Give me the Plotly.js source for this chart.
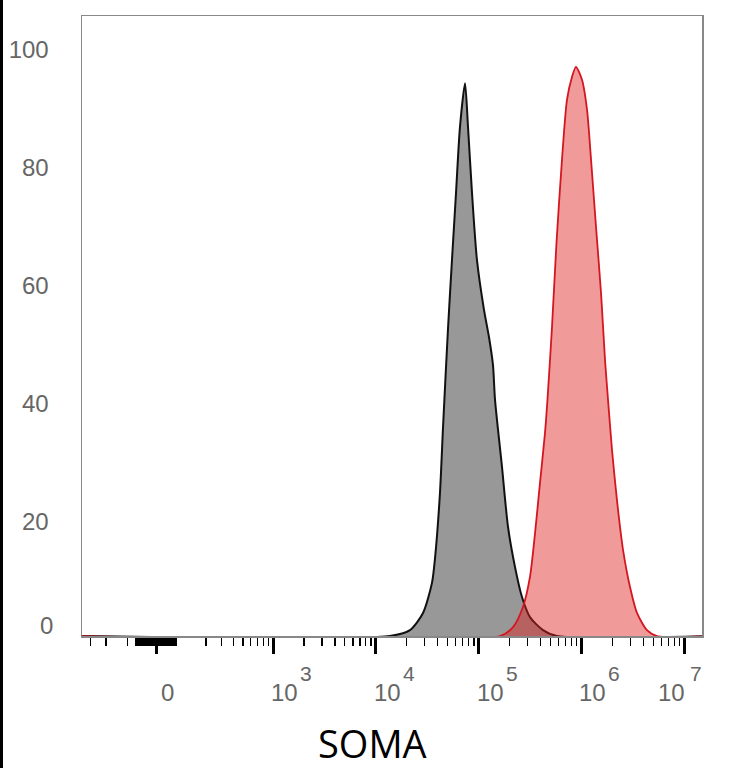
<!DOCTYPE html>
<html>
<head>
<meta charset="utf-8">
<script src="https://cdn.plot.ly/plotly-3.0.1.min.js"></script>
<style>
html,body{margin:0;padding:0;background:#fff;}
#chart{width:734px;height:768px;}
</style>
</head>
<body>
<div id="chart"></div>
<script>
// ---- data (fluorescence intensity vs. normalized count) ----
const isotypeFluor = [-400, 13700, 21500, 28800, 35200, 37700, 42100, 45100, 50500, 55100, 60300, 65900, 73800,
  78900, 86300, 96400, 113000, 126300, 138000, 144500, 169000, 193200, 225900, 264300, 316200, 423000, 578000, 2e7];
const isotypeCount = [0, 0, 1.0, 3.9, 9.0, 13.2, 24.2, 35.4, 52.3, 63.7, 75.0, 86.2, 93.6,
  86.2, 75.0, 63.7, 55.2, 50.6, 45.9, 40.0, 28.6, 18.5, 11.7, 6.6, 3.2, 1.0, 0, 0];

const somaFluor = [-400, 161400, 216300, 270000, 316000, 354000, 395400, 442600, 467700, 517600, 572500, 647000, 724000, 811000, 885000,
  1014000, 1135000, 1242000, 1387000, 1552000, 1698000, 1816000, 1986000, 2218000, 2541000, 2972000, 3475000, 4345000, 5433000, 2e7];
const somaCount = [0, 0, 1.5, 4.9, 10.0, 17.4, 25.9, 34.4, 40.0, 52.3, 66.6, 80.6, 90.8, 94.7, 96.4,
  94.2, 89.1, 80.6, 69.3, 58.1, 46.7, 40.0, 31.5, 23.0, 14.6, 8.3, 3.9, 1.0, 0, 0];

const majorTicks = [0, 1e3, 1e4, 1e5, 1e6, 1e7];
const majorExponents = ['', '3', '4', '5', '6', '7'];
const yTicks = [20, 40, 60, 80, 100];
const xAxisTitle = 'SOMA';

// ---- biexponential-like display transform ----
const W = 72.8;
function T(v) { return Math.asinh(v / (2 * W)) / Math.LN10; }

// minor tick values
const minorVals = [];
[-300, -200, -100].forEach(v => minorVals.push(v));
for (let v = -70; v <= 70; v += 5) if (v !== 0) minorVals.push(v);
for (let m = 2; m <= 9; m++) minorVals.push(m * 100);
for (let n = 3; n <= 6; n++) for (let m = 2; m <= 9; m++) minorVals.push(m * Math.pow(10, n));

const grayTrace = {
  x: isotypeFluor.map(T), y: isotypeCount, type: 'scatter', mode: 'lines',
  line: {color: '#111111', width: 2, shape: 'spline', smoothing: 0.7},
  fill: 'tozeroy', fillcolor: 'rgb(152,152,152)', hoverinfo: 'skip'
};
const redTrace = {
  x: somaFluor.map(T), y: somaCount, type: 'scatter', mode: 'lines',
  line: {color: 'rgb(212,22,32)', width: 1.8, shape: 'spline', smoothing: 0.7},
  fill: 'tozeroy', fillcolor: 'rgba(225,30,30,0.45)', hoverinfo: 'skip'
};

const labelFont = {family: 'Liberation Sans, Arial, sans-serif', size: 24, color: '#666666'};
const expFont = {family: 'Liberation Sans, Arial, sans-serif', size: 21, color: '#666666'};

const annotations = [];
majorTicks.forEach((v, i) => {
  const last = i === majorTicks.length - 1;
  if (v === 0) {
    annotations.push({x: T(0), xref: 'x', y: 0, yref: 'paper', text: '0', showarrow: false,
      xanchor: 'center', yanchor: 'middle', xshift: 11, yshift: -56, font: labelFont});
    return;
  }
  annotations.push({x: T(v), xref: 'x', y: 0, yref: 'paper', text: '10', showarrow: false,
    xanchor: last ? 'right' : 'left', yanchor: 'middle', xshift: last ? 3 : -4, yshift: -56, font: labelFont});
  annotations.push({x: T(v), xref: 'x', y: 0, yref: 'paper', text: majorExponents[i], showarrow: false,
    xanchor: 'left', yanchor: 'middle', xshift: last ? 4 : 25, yshift: -37, font: expFont});
});
// y "0" label
annotations.push({x: 0, xref: 'paper', y: 0, yref: 'y', text: '0', showarrow: false,
  xanchor: 'right', yanchor: 'middle', xshift: -27, yshift: 11, font: labelFont});
// axis title
annotations.push({x: (372.5 - 82) / 620, xref: 'paper', y: 0, yref: 'paper', text: xAxisTitle, showarrow: false,
  xanchor: 'center', yanchor: 'middle', yshift: -107, borderpad: 0,
  font: {family: 'Open Sans, Noto Sans, sans-serif', size: 38, color: '#000000'}});

const layout = {
  width: 734, height: 768,
  margin: {l: 82, r: 32, t: 16, b: 132, pad: 0},
  paper_bgcolor: '#ffffff', plot_bgcolor: '#ffffff',
  showlegend: false,
  xaxis: {
    range: [T(-368), T(1.49e7)], showgrid: false, zeroline: false,
    showline: true, mirror: true, linecolor: '#888888', linewidth: 1.5,
    tickmode: 'array', tickvals: majorTicks.map(T), showticklabels: false,
    ticks: 'outside', ticklen: 16, tickwidth: 3, tickcolor: '#000000',
    minor: {tickmode: 'array', tickvals: minorVals.map(T), ticks: 'outside', ticklen: 8, tickwidth: 1.3, tickcolor: '#000000', showgrid: false}
  },
  yaxis: {
    range: [0, 105], showgrid: false, zeroline: false,
    showline: true, mirror: true, linecolor: '#888888', linewidth: 1.5,
    tickmode: 'array', tickvals: yTicks, ticktext: yTicks.map(String),
    ticks: '', ticklabelstandoff: 27, ticklabelshift: 4, tickfont: labelFont
  },
  shapes: [{type: 'rect', xref: 'paper', yref: 'paper', x0: -82 / 620, x1: -79 / 620, y0: -132 / 620, y1: 636 / 620,
    fillcolor: '#000000', line: {width: 0}, layer: 'above'}],
  annotations: annotations
};

Plotly.newPlot('chart', [grayTrace, redTrace], layout, {displayModeBar: false, staticPlot: true});
</script>
</body>
</html>
